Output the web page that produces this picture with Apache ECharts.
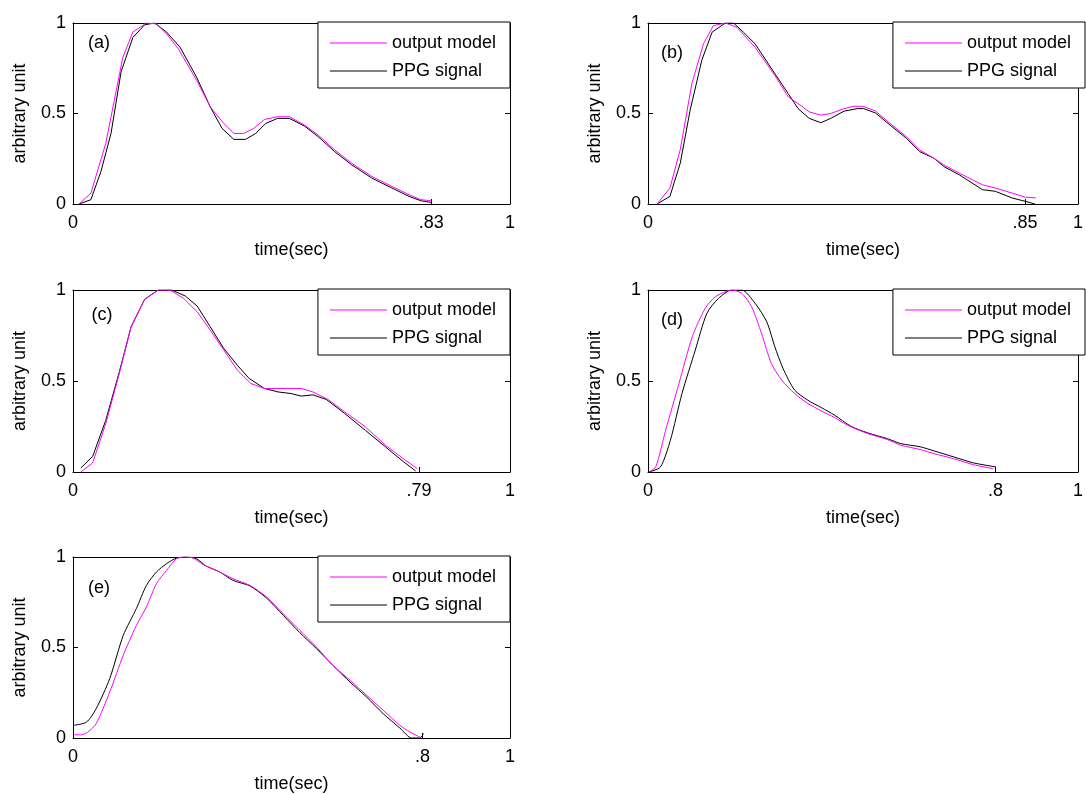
<!DOCTYPE html>
<html>
<head>
<meta charset="utf-8">
<script src="https://cdn.jsdelivr.net/npm/echarts@6/dist/echarts.min.js"></script>
<style>html,body{margin:0;padding:0;background:#fff}#c{width:1086px;height:794px}</style>
</head>
<body>
<div id="c"></div>
<script>
// ---------- data (x in normalised axis units 0..1, y in arbitrary unit) ----------
const seriesNames = ['output model', 'PPG signal'];
const panelLetters = ['(a)', '(b)', '(c)', '(d)', '(e)'];
const yTickValues = [0, 0.5, 1];
const yTickLabels = ['0', '0.5', '1'];

const aTicks = [0, 0.82, 1];   const aTickLabels = ['0', '.83', '1'];
const bTicks = [0, 0.877, 1];  const bTickLabels = ['0', '.85', '1'];
const cTicks = [0, 0.792, 1];  const cTickLabels = ['0', '.79', '1'];
const dTicks = [0, 0.808, 1];  const dTickLabels = ['0', '.8', '1'];
const eTicks = [0, 0.80, 1];   const eTickLabels = ['0', '.8', '1'];

const aModel = [[0.014,0],[0.041,0.06],[0.075,0.335],[0.114,0.81],[0.137,0.95],[0.168,1.0],[0.191,0.995],[0.214,0.94],[0.241,0.857],[0.283,0.683],[0.314,0.537],[0.345,0.445],[0.368,0.39],[0.391,0.39],[0.414,0.418],[0.438,0.467],[0.468,0.482],[0.495,0.482],[0.53,0.436],[0.561,0.381],[0.599,0.299],[0.638,0.225],[0.684,0.152],[0.73,0.097],[0.769,0.051],[0.796,0.024],[0.819,0.018]];
const aPPG = [[0.014,0],[0.041,0.024],[0.064,0.18],[0.087,0.39],[0.11,0.73],[0.137,0.92],[0.164,0.99],[0.187,1.0],[0.214,0.95],[0.245,0.866],[0.283,0.70],[0.314,0.537],[0.341,0.418],[0.368,0.357],[0.395,0.357],[0.418,0.39],[0.441,0.445],[0.468,0.473],[0.495,0.473],[0.53,0.43],[0.561,0.372],[0.599,0.289],[0.638,0.216],[0.684,0.143],[0.73,0.088],[0.769,0.042],[0.796,0.018],[0.819,0.009]];

const bModel = [[0.021,0],[0.051,0.088],[0.075,0.3],[0.102,0.665],[0.129,0.885],[0.152,0.985],[0.18,1.0],[0.207,0.976],[0.249,0.866],[0.295,0.71],[0.326,0.592],[0.349,0.555],[0.375,0.509],[0.402,0.491],[0.425,0.5],[0.456,0.527],[0.479,0.54],[0.5,0.54],[0.529,0.514],[0.563,0.445],[0.601,0.372],[0.632,0.298],[0.665,0.253],[0.688,0.216],[0.724,0.17],[0.778,0.106],[0.808,0.088],[0.847,0.06],[0.877,0.038],[0.902,0.033]];
const bPPG = [[0.021,0],[0.051,0.042],[0.075,0.225],[0.098,0.518],[0.125,0.793],[0.149,0.949],[0.18,1.0],[0.199,1.0],[0.222,0.949],[0.249,0.885],[0.295,0.72],[0.326,0.61],[0.349,0.527],[0.375,0.473],[0.402,0.449],[0.425,0.473],[0.456,0.513],[0.487,0.527],[0.502,0.527],[0.529,0.503],[0.563,0.436],[0.601,0.363],[0.632,0.289],[0.665,0.253],[0.688,0.207],[0.724,0.161],[0.778,0.079],[0.808,0.07],[0.847,0.033],[0.877,0.015],[0.9,0]];

const cModel = [[0.018,0],[0.045,0.05],[0.075,0.266],[0.106,0.541],[0.133,0.798],[0.164,0.949],[0.195,1.0],[0.222,1.0],[0.253,0.954],[0.284,0.881],[0.314,0.78],[0.345,0.67],[0.376,0.56],[0.407,0.486],[0.438,0.459],[0.476,0.459],[0.522,0.459],[0.549,0.44],[0.584,0.398],[0.622,0.33],[0.669,0.248],[0.715,0.147],[0.761,0.064],[0.788,0.018]];
const cPPG = [[0.018,0.022],[0.045,0.086],[0.075,0.284],[0.106,0.55],[0.133,0.798],[0.164,0.949],[0.195,1.0],[0.226,1.0],[0.257,0.967],[0.284,0.912],[0.314,0.798],[0.345,0.679],[0.376,0.587],[0.403,0.514],[0.438,0.459],[0.469,0.44],[0.499,0.431],[0.522,0.417],[0.549,0.424],[0.58,0.398],[0.622,0.321],[0.669,0.229],[0.715,0.138],[0.757,0.055],[0.784,0.006]];

const dModel = [[0.002,0],[0.018,0.028],[0.041,0.229],[0.072,0.486],[0.103,0.743],[0.133,0.899],[0.157,0.963],[0.195,1.0],[0.218,0.982],[0.241,0.908],[0.264,0.761],[0.287,0.596],[0.311,0.505],[0.341,0.431],[0.372,0.376],[0.403,0.336],[0.434,0.299],[0.464,0.257],[0.511,0.211],[0.557,0.178],[0.588,0.147],[0.634,0.123],[0.665,0.101],[0.711,0.073],[0.757,0.04],[0.803,0.018]];
const dPPG = [[0.002,0],[0.029,0.028],[0.052,0.174],[0.079,0.431],[0.11,0.67],[0.137,0.872],[0.164,0.954],[0.195,1.0],[0.218,1.0],[0.249,0.927],[0.276,0.826],[0.295,0.688],[0.314,0.569],[0.341,0.45],[0.372,0.394],[0.403,0.354],[0.434,0.312],[0.472,0.251],[0.511,0.215],[0.557,0.183],[0.588,0.156],[0.634,0.138],[0.665,0.116],[0.711,0.083],[0.757,0.05],[0.809,0.028]];

const eModel = [[0.002,0.018],[0.019,0.018],[0.034,0.033],[0.053,0.079],[0.084,0.254],[0.115,0.457],[0.145,0.622],[0.168,0.724],[0.191,0.853],[0.214,0.926],[0.237,0.991],[0.256,1.0],[0.275,0.994],[0.298,0.958],[0.328,0.926],[0.366,0.88],[0.405,0.843],[0.443,0.779],[0.481,0.687],[0.519,0.595],[0.557,0.503],[0.595,0.401],[0.634,0.319],[0.672,0.236],[0.71,0.153],[0.748,0.07],[0.771,0.033],[0.798,0]];
const ePPG = [[0.002,0.07],[0.031,0.088],[0.053,0.162],[0.084,0.328],[0.115,0.567],[0.145,0.715],[0.168,0.843],[0.191,0.917],[0.214,0.963],[0.237,0.994],[0.26,1.0],[0.282,0.991],[0.305,0.95],[0.336,0.917],[0.366,0.871],[0.405,0.84],[0.443,0.773],[0.481,0.678],[0.519,0.582],[0.557,0.494],[0.595,0.401],[0.634,0.309],[0.672,0.226],[0.71,0.134],[0.748,0.055],[0.775,0],[0.794,0],[0.802,0.024]];

// ---------- layout ----------
const FONT = '"Liberation Sans", Arial, Helvetica, sans-serif';
const FS = 18;
const panels = [
  {grid:{left:73,  top:23,  width:437, height:181}, ticks:aTicks, labels:aTickLabels, model:aModel, ppg:aPPG, smooth:false, letter:[99,43]},
  {grid:{left:648, top:23,  width:437, height:181}, ticks:bTicks, labels:bTickLabels, model:bModel, ppg:bPPG, smooth:false, letter:[672,53]},
  {grid:{left:73,  top:290, width:437, height:182}, ticks:cTicks, labels:cTickLabels, model:cModel, ppg:cPPG, smooth:false, letter:[102,315]},
  {grid:{left:648, top:290, width:437, height:182}, ticks:dTicks, labels:dTickLabels, model:dModel, ppg:dPPG, smooth:0.25, letter:[672,320]},
  {grid:{left:73,  top:557, width:437, height:181}, ticks:eTicks, labels:eTickLabels, model:eModel, ppg:ePPG, smooth:0.25, letter:[99,588]}
];

const grids = [], xAxes = [], yAxes = [], series = [], legends = [], graphics = [];
const axisLine = {show:true, onZero:false, lineStyle:{color:'#000', width:1}};
const txt = {color:'#000', fontSize:FS, fontFamily:FONT};

panels.forEach((p, i) => {
  grids.push(Object.assign({containLabel:false}, p.grid));
  const fmtX = v => { let best = 0; p.ticks.forEach((t, k) => { if (Math.abs(t - v) < Math.abs(p.ticks[best] - v)) best = k; }); return p.labels[best]; };
  const fmtY = v => { let best = 0; yTickValues.forEach((t, k) => { if (Math.abs(t - v) < Math.abs(yTickValues[best] - v)) best = k; }); return yTickLabels[best]; };
  // bottom x
  xAxes.push({gridIndex:i, type:'value', min:0, max:1, position:'bottom', axisLine,
    axisTick:{show:true, inside:true, length:5, customValues:p.ticks, lineStyle:{color:'#000'}},
    axisLabel:Object.assign({show:true, customValues:p.ticks, formatter:fmtX, margin:10}, txt),
    splitLine:{show:false}, name:'time(sec)', nameLocation:'middle', nameGap:37, nameTextStyle:txt});
  // top x
  xAxes.push({gridIndex:i, type:'value', min:0, max:1, position:'top', axisLine,
    axisTick:{show:true, inside:true, length:5, customValues:p.ticks, lineStyle:{color:'#000'}},
    axisLabel:{show:false}, splitLine:{show:false}});
  // left y
  yAxes.push({gridIndex:i, type:'value', min:0, max:1, interval:0.5, position:'left', axisLine,
    axisTick:{show:true, inside:true, length:5, lineStyle:{color:'#000'}},
    axisLabel:Object.assign({show:true, formatter:fmtY, margin:7}, txt),
    splitLine:{show:false}, name:'arbitrary unit', nameLocation:'middle', nameGap:44, nameTextStyle:txt});
  // right y
  yAxes.push({gridIndex:i, type:'value', min:0, max:1, interval:0.5, position:'right', axisLine,
    axisTick:{show:true, inside:true, length:5, lineStyle:{color:'#000'}},
    axisLabel:{show:false}, splitLine:{show:false}});

  series.push({type:'line', name:seriesNames[0], xAxisIndex:2*i, yAxisIndex:2*i, data:p.model,
    showSymbol:false, symbol:'none', smooth:p.smooth, lineStyle:{color:'#ff00ff', width:1}, itemStyle:{color:'#ff00ff'}, z:3, animation:false});
  series.push({type:'line', name:seriesNames[1], xAxisIndex:2*i, yAxisIndex:2*i, data:p.ppg,
    showSymbol:false, symbol:'none', smooth:p.smooth, lineStyle:{color:'#000', width:1}, itemStyle:{color:'#000'}, z:2, animation:false});

  const right = 1086 - (p.grid.left + p.grid.width);
  legends.push({data:seriesNames, orient:'vertical', right:right, top:p.grid.top - 1,
    padding:[11, 14, 7, 12], icon:'rect', itemWidth:57, itemHeight:1.2, itemGap:8,
    borderColor:'#000', borderWidth:1, borderRadius:0, backgroundColor:'#fff',
    selectedMode:false, textStyle:Object.assign({lineHeight:20}, txt)});

  graphics.push({type:'text', x:p.letter[0], y:p.letter[1],
    style:{text:panelLetters[i], fill:'#000', font:FS + 'px ' + FONT, textAlign:'center', textVerticalAlign:'middle'}, z:10});
});

const chart = echarts.init(document.getElementById('c'), null, {renderer:'canvas'});
chart.setOption({
  backgroundColor:'#fff',
  animation:false,
  grid:grids, xAxis:xAxes, yAxis:yAxes, series:series, legend:legends, graphic:graphics
});
</script>
</body>
</html>
